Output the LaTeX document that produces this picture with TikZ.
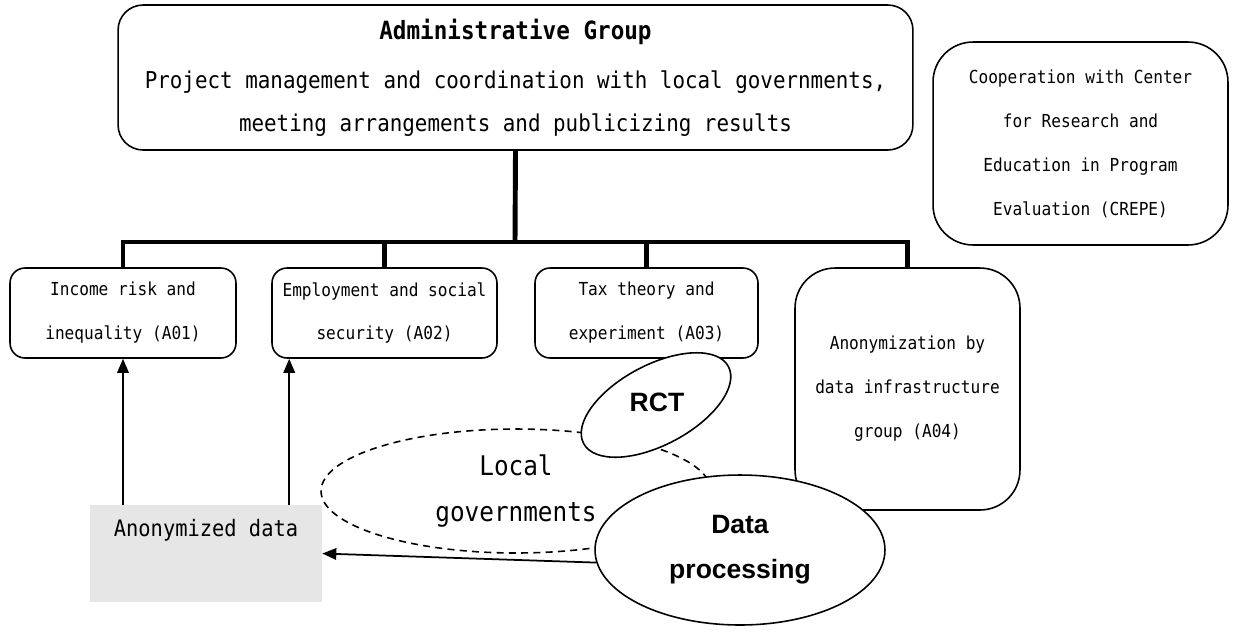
\documentclass[tikz,border=0pt]{standalone}
\usepackage{fontspec}
\usetikzlibrary{positioning,calc,arrows.meta,shapes.geometric}
\newfontfamily\gothic[FakeStretch=0.9]{DejaVu Sans Mono}
\newfontfamily\arialish{Liberation Sans}
\definecolor{anongray}{HTML}{E6E6E6}

\begin{document}
\begin{tikzpicture}[x=0.02cm, y=-0.02cm,
		groupbox/.style={draw, line width=0.9pt, rounded corners=0.3cm, align=center, inner sep=0pt, fill=white, font=\gothic\fontsize{10.2}{25}\selectfont},
		trunk/.style={line width=2.8pt},
		arr/.style={line width=1pt, -{Triangle[length=2.8mm,width=2.3mm]}},
		blob/.style={ellipse, draw, line width=0.9pt, fill=white, inner sep=0pt},
		boldsans/.style={font=\arialish\bfseries\fontsize{15.1}{25.6}\selectfont}]
		\useasboundingbox (0,0) rectangle (1234,637);
		%% the administrative group on top
		\node[groupbox, rounded corners=0.5cm, minimum width=15.9cm, minimum height=2.9cm, font=\gothic\fontsize{13.2}{24.5}\selectfont] (admin) at (515.5,77.5)
		{{\bfseries\fontsize{14.3}{24.5}\selectfont Administrative Group}\\[3.4pt]
			Project management and coordination with local governments,\\
			meeting arrangements and publicizing results};
		\node[groupbox, rounded corners=0.8cm, minimum width=5.9cm, minimum height=4.06cm] (crepe) at (1080.5,143.5)
		{Cooperation with Center\\for Research and\\Education in Program\\Evaluation (CREPE)};
		%% the four research groups
		\node[groupbox, minimum width=4.52cm, minimum height=1.8cm] (a01) at (123,313) {Income risk and\\inequality (A01)};
		\node[groupbox, minimum width=4.5cm, minimum height=1.8cm] (a02) at (384.5,313) {Employment and social\\security (A02)};
		\node[groupbox, minimum width=4.46cm, minimum height=1.8cm] (a03) at (646.5,313) {Tax theory and\\experiment (A03)};
		\node[groupbox, rounded corners=0.8cm, minimum width=4.5cm, minimum height=4.84cm] (a04) at (907.5,389) {Anonymization by\\data infrastructure\\group (A04)};
		%% tree lines
		\coordinate (fork) at (515,242);
		\draw[trunk] (admin.south) -- (fork);
		\draw[trunk] (a01.north) -- (a01.north |- fork) -- (a04.north |- fork) -- (a04.north);
		\foreach \b in {a02,a03}
		\draw[trunk] (\b.north) -- (\b.north |- fork);
		%% local governments, RCT and data processing
		\node[ellipse, draw, line width=0.9pt, dash pattern=on 4pt off 3pt, minimum width=7.8cm, minimum height=2.48cm, inner sep=0pt, align=center, font=\gothic\fontsize{15.4}{26}\selectfont] (locgov) at (516,491) {Local\\governments};
		\node[blob, minimum width=3.28cm, minimum height=1.6cm, rotate=28] (rct) at (656,405) {};
		\node[boldsans] (rcttext) at (657,402) {RCT};
		\node[blob, boldsans, align=center, minimum width=5.8cm, minimum height=3cm] (dp) at (740,550) {Data\\processing};
		%% anonymized data and the arrows
		\node[fill=anongray, minimum width=4.64cm, minimum height=1.94cm, inner sep=0pt] (anon) at (206,553.5) {};
		\node[font=\gothic\fontsize{12.9}{15}\selectfont] (anontext) at (206,530) {Anonymized data};
		\coordinate (a02foot) at ($(a02.south west)+(18,0)$);
		\draw[arr] (anon.north -| a01.south) -- (a01.south);
		\draw[arr] (anon.north -| a02foot) -- (a02foot);
		\draw[arr] (dp.185) -- (anon.east);
	\end{tikzpicture}
\end{document}
